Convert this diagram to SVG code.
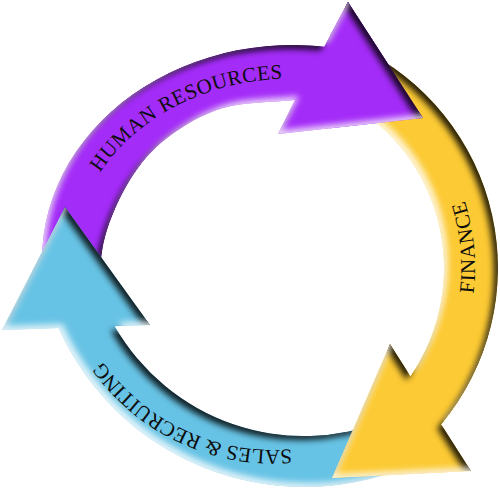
<svg xmlns="http://www.w3.org/2000/svg" xmlns:xlink="http://www.w3.org/1999/xlink" width="500" height="489" viewBox="0 0 500 489">
  <defs>
    <style>
      .lbl { font-family: "Liberation Serif", "Times New Roman", serif; font-size: 21px; fill: #0d0d0d; letter-spacing: 0.5px; }
      .tight { letter-spacing: 0px; }
      .arrow { filter: url(#bevel); }
    </style>
    <filter id="bevel" x="-10%" y="-10%" width="120%" height="120%" color-interpolation-filters="sRGB">
      <feGaussianBlur in="SourceAlpha" stdDeviation="3" result="b"/>
      <feOffset in="b" dx="-4" dy="4" result="o1"/>
      <feComposite in="SourceAlpha" in2="o1" operator="arithmetic" k1="0" k2="1" k3="-1" k4="0" result="sh"/>
      <feFlood flood-color="#000" flood-opacity="0.85" result="fd"/>
      <feComposite in="fd" in2="sh" operator="in" result="shadow"/>
      <feOffset in="b" dx="4" dy="-4" result="o2"/>
      <feComposite in="SourceAlpha" in2="o2" operator="arithmetic" k1="0" k2="1" k3="-1" k4="0" result="hl"/>
      <feFlood flood-color="#fff" flood-opacity="0.8" result="fl"/>
      <feComposite in="fl" in2="hl" operator="in" result="light"/>
      <feMerge>
        <feMergeNode in="SourceGraphic"/>
        <feMergeNode in="shadow"/>
        <feMergeNode in="light"/>
      </feMerge>
    </filter>
    <clipPath id="hrHeadClip">
      <rect x="330" y="0" width="170" height="160"/>
    </clipPath>
    <path id="hrText" d="M 77.6,223.3 A 219 181 0 0 1 338.3,82.6"/>
    <path id="finText" d="M 423.3,410.1 A 221 221 0 0 0 392.4,95.7"/>
    <path id="salesText" d="M 345.8,437.3 A 210 210 0 0 1 76.7,311.8"/>
  </defs>

  <g id="node-human-resources">
    <path id="hrShape" class="arrow" fill="#A42CF8" d="M 45.8,297.3 A 251 215 0 0 1 324.3,46.6 L 348,2 L 423,118 L 278,134 L 295,100 C 269.7,102.7 244,101.7 223,108 C 202,114.3 182.5,126 167,138 C 151.5,150 140.3,163.5 130,180 C 119.7,196.5 110.3,217.8 105,237 C 99.7,256.2 100.3,275.7 98,295 Z"/>
    <text class="lbl"><textPath xlink:href="#hrText" href="#hrText" startOffset="50%" text-anchor="middle">HUMAN RESOURCES</textPath></text>
  </g>

  <g id="node-sales-recruiting">
    <path class="arrow" fill="#67C3E5" d="M 385.7,420.1 A 218 218 0 0 1 114.8,326.2 L 150,325 L 65,207 L 2,330 L 58.6,328.1 A 269 269 0 0 0 404.8,467.4 Z"/>
    <text class="lbl tight"><textPath xlink:href="#salesText" href="#salesText" startOffset="50%" text-anchor="middle">SALES &amp; RECRUITING</textPath></text>
  </g>

  <g id="node-finance">
    <path class="arrow" fill="#FCCA34" d="M 357.1,46.9 A 244 244 0 0 1 441.3,424.4 L 471,471 L 332,478 L 390,344 L 410.4,376 A 190 190 0 0 0 334.3,95.8 Z"/>
    <text class="lbl"><textPath xlink:href="#finText" href="#finText" startOffset="50%" text-anchor="middle">FINANCE</textPath></text>
  </g>

  <g id="node-human-resources-head">
    <use xlink:href="#hrShape" href="#hrShape" clip-path="url(#hrHeadClip)"/>
  </g>
</svg>
